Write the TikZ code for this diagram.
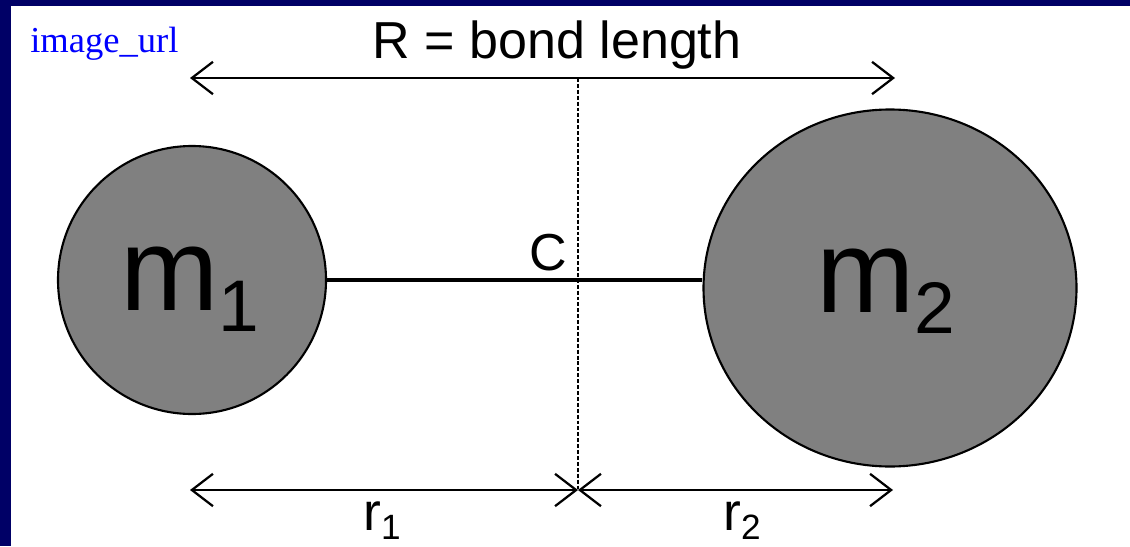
\documentclass[tikz,border=0pt]{standalone}
\usepackage{fontspec}
\setmainfont{Liberation Sans}
\newfontfamily\serifnote{Liberation Serif}
\usepackage{xcolor}
\usetikzlibrary{arrows.meta, shapes.geometric, calc}
\definecolor{frameNavy}{HTML}{000066}
\definecolor{noteBlue}{HTML}{0000FF}
\newcommand{\massname}[2]{{\fontsize{84}{84}\selectfont #1}\raisebox{-15pt}{\fontsize{52}{52}\selectfont #2}}
\newcommand{\distname}[2]{{\fontsize{38}{38}\selectfont #1}\raisebox{-7pt}{\fontsize{25}{25}\selectfont #2}}

\begin{document}
\begin{tikzpicture}[
  x=0.025cm, y=-0.025cm,
  mass/.style={draw, line width=1.5pt, fill=gray, inner sep=0pt},
  masslbl/.style={anchor=base, inner sep=0pt},
  bond/.style={line width=3.5pt},
  dim/.style={{Straight Barb[length=15pt,width=23pt]}-{Straight Barb[length=15pt,width=23pt]}, line width=1.6pt},
  guide/.style={line width=1.2pt, dash pattern=on 2.8pt off 1.4pt}
]
\useasboundingbox (0,0) rectangle (1130,546);
\fill[white] (0,0) rectangle (1130,546);
\fill[frameNavy] (0,0) rectangle (1130,6);
\fill[frameNavy] (0,0) rectangle (11,546);

\node[anchor=base west, inner sep=0pt, text=noteBlue, font=\serifnote\fontsize{26}{26}\selectfont] (url) at (30,52) {image\_url};

% the two masses
\node[mass, circle, minimum size=268*0.025cm] (m1) at (192,280) {};
\node[mass, ellipse, minimum width=373*0.025cm, minimum height=357*0.025cm] (m2) at (890,288) {};
\node[masslbl] (m1name) at (190,310) {\massname{m}{1}};
\node[masslbl] (m2name) at (886,312) {\massname{m}{2}};
\draw[bond] (m1.east) -- (m2.west |- m1.east);
\node[masslbl, font=\fontsize{37}{37}\selectfont] (cname) at (548,270) {C};

% dimension lines
\coordinate (topl) at (190,78);
\coordinate (topc) at (578,78);
\coordinate (topr) at (895,78);
\coordinate (botl) at (190,490);
\coordinate (botc) at (578,490);
\coordinate (botr) at (893,490);
\node[masslbl, font=\fontsize{37}{37}\selectfont] (bondname) at (557,58) {R = bond length};
\draw[dim] (topl) -- (topr);
\draw[guide] (topc) -- (botc);
\draw[dim] (botl) -- (botc);
\draw[dim] (botc) -- (botr);
\node[masslbl] (r1name) at (382,530) {\distname{r}{1}};
\node[masslbl] (r2name) at (742,530) {\distname{r}{2}};

\end{tikzpicture}
\end{document}
